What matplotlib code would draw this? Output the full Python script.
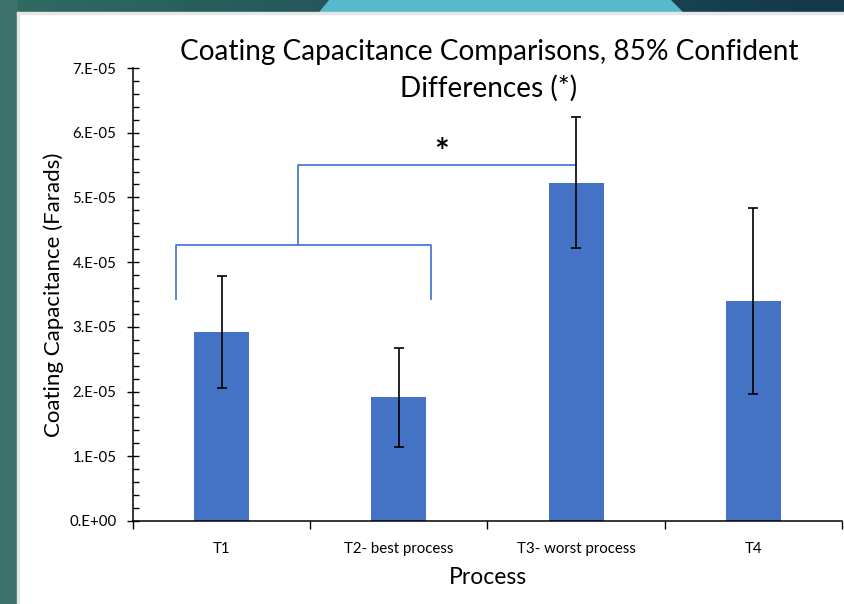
#!/usr/bin/env python3

"""Bar chart of coating capacitance per process with 85% confidence brackets."""

import matplotlib
matplotlib.use('Agg')
import matplotlib.pyplot as plt
import numpy as np
from matplotlib.patches import Rectangle, Polygon
from matplotlib.ticker import MultipleLocator, FuncFormatter

processes = ['T1', 'T2- best process', 'T3- worst process', 'T4']
capacitance = [2.92e-5, 1.91e-5, 5.23e-5, 3.40e-5]
errors = [0.87e-5, 0.77e-5, 1.01e-5, 1.44e-5]

# significance bracket: T1/T2 group vs T3
low_bracket_x = [-0.26, 1.18]
low_bracket_y = 4.27e-5
low_bracket_foot = 3.43e-5
high_bracket_x = [0.43, 2.0]
high_bracket_y = 5.50e-5
star_pos = (1.24, 5.68e-5)

BAR_BLUE = '#4472C4'
LINE_BLUE = '#4a7bd2'

plt.rcParams['font.family'] = ['Lato', 'DejaVu Sans']


def sci_label(value, _pos):
    if value == 0:
        return '0.E+00'
    exp = int(np.floor(np.log10(abs(value)) + 1e-9))
    mant = value / 10 ** exp
    return f'{mant:.0f}.E{exp:+03d}'


def draw_frame(fig):
    # slide-style frame: teal stripe on the left, gradient band on top
    fig.patches.append(Rectangle((0, 0), 17 / 845, 1, transform=fig.transFigure,
                                 color='#3b7168', zorder=0))
    fig.patches.append(Rectangle((17 / 845, 0), 2 / 845, 1 - 12 / 604, transform=fig.transFigure,
                                 color='#e6e6e6', zorder=0))
    band = fig.add_axes([0, 1 - 12 / 604, 1, 12 / 604], zorder=-1)
    grad = np.linspace(0, 1, 256)
    c0 = np.array([0x2f, 0x6b, 0x63]) / 255
    c1 = np.array([0x12, 0x38, 0x4a]) / 255
    img = (c0[None, :] * (1 - grad[:, None]) + c1[None, :] * grad[:, None])[None, :, :]
    band.imshow(img, aspect='auto', extent=[0, 845, 0, 12])
    band.add_patch(Polygon([[320, 0], [330, 12], [670, 12], [682, 0]], closed=True,
                           color='#57b9cc'))
    band.set_xlim(0, 845)
    band.set_ylim(0, 12)
    band.axis('off')
    fig.patches.append(Rectangle((17 / 845, 1 - 14 / 604), 1, 2 / 604, transform=fig.transFigure,
                                 color='#e6e6e6', zorder=0))


def main():
    fig = plt.figure(figsize=(8.45, 6.04), dpi=100)
    draw_frame(fig)

    ax = fig.add_axes([133 / 845, 83 / 604, 709 / 845, 453 / 604])
    x = np.arange(len(processes))
    ax.bar(x, capacitance, width=0.31, color=BAR_BLUE, zorder=2)
    ax.errorbar(x, capacitance, yerr=errors, fmt='none', ecolor='black',
                elinewidth=1.2, capsize=3.5, capthick=1.2, zorder=3)

    # brackets
    ax.plot([low_bracket_x[0], low_bracket_x[0], low_bracket_x[1], low_bracket_x[1]],
            [low_bracket_foot, low_bracket_y, low_bracket_y, low_bracket_foot],
            color=LINE_BLUE, lw=1.3, zorder=1)
    ax.plot([high_bracket_x[0], high_bracket_x[0], high_bracket_x[1]],
            [low_bracket_y, high_bracket_y, high_bracket_y],
            color=LINE_BLUE, lw=1.3, zorder=1)
    ax.text(star_pos[0], star_pos[1], '*', ha='center', va='center',
            fontsize=25, fontweight='bold')

    ax.set_xlim(-0.5, len(processes) - 0.5)
    ax.set_ylim(0, 7e-5)
    ax.set_xticks(np.arange(-0.5, len(processes)), labels=[''] * (len(processes) + 1))
    ax.set_xticks(x, labels=processes, minor=True)
    ax.tick_params(axis='x', which='major', direction='out', length=6, width=1)
    ax.tick_params(axis='x', which='minor', length=0, labelsize=10.8, pad=15)

    ax.yaxis.set_major_locator(MultipleLocator(1e-5))
    ax.yaxis.set_minor_locator(MultipleLocator(2e-6))
    ax.yaxis.set_major_formatter(FuncFormatter(sci_label))
    ax.tick_params(axis='y', which='major', direction='inout', length=8, width=1,
                   labelsize=10.8, pad=8)
    ax.tick_params(axis='y', which='minor', direction='in', length=4, width=1)

    for side in ('top', 'right'):
        ax.spines[side].set_visible(False)
    ax.spines['left'].set_linewidth(1.1)
    ax.spines['bottom'].set_linewidth(1.1)

    ax.set_xlabel('Process', fontsize=16.5, labelpad=8)
    ax.set_ylabel('Coating Capacitance (Farads)', fontsize=16, labelpad=4)
    fig.text(489 / 845, 1 - 70 / 604,
             'Coating Capacitance Comparisons, 85% Confident\nDifferences (*)',
             ha='center', va='center', fontsize=20.2, linespacing=1.45)

    fig.savefig('out.png', dpi=100)


if __name__ == '__main__':
    main()
